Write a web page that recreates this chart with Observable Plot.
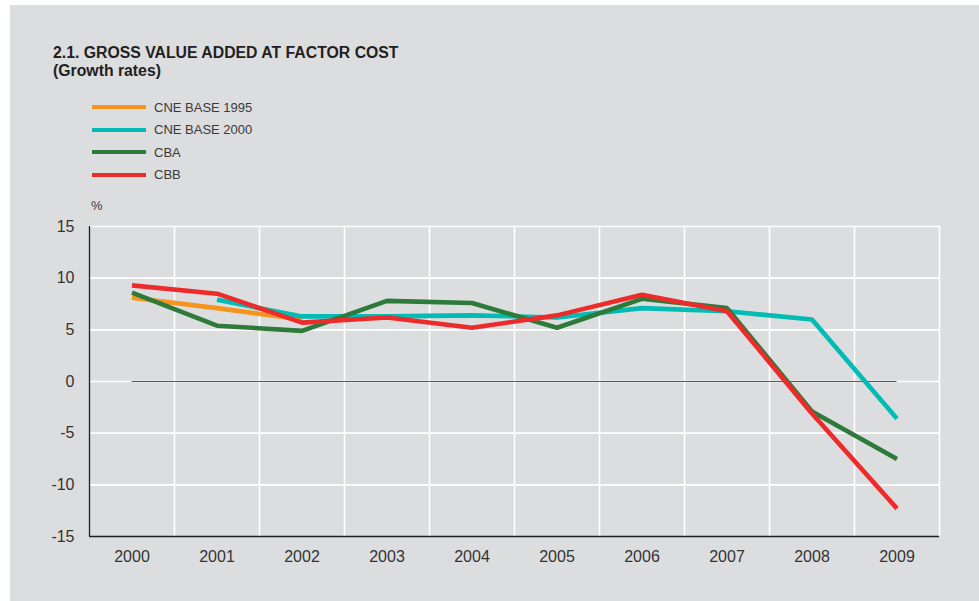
<!DOCTYPE html>
<html>
<head>
<meta charset="utf-8">
<script src="https://cdn.jsdelivr.net/npm/d3@7"></script>
<script src="https://cdn.jsdelivr.net/npm/@observablehq/plot@0.6"></script>
<style>
  html, body { margin: 0; padding: 0; background: #ffffff; }
  body { width: 979px; height: 601px; overflow: hidden; position: relative; font-family: "Liberation Sans", Arial, sans-serif; }
  #panel { position: absolute; left: 10px; top: 5px; width: 969px; height: 596px; background: #dcdddf; }
  #title { position: absolute; left: 43px; top: 39px; font-size: 15.8px; line-height: 18px; font-weight: bold; color: #231f20; }
  #legend { position: absolute; left: 82px; top: 90.7px; }
  .row { height: 22.67px; display: flex; align-items: center; font-size: 13px; color: #3a3a3a; }
  .sw { width: 54px; height: 4px; margin-right: 8px; }
  #unit { position: absolute; left: 81px; top: 194px; font-size: 13px; line-height: 13px; color: #3a3a3a; }
  #chart { position: absolute; left: 0px; top: 185px; }
</style>
</head>
<body>
<div id="panel">
  <div id="title">2.1. GROSS VALUE ADDED AT FACTOR COST<br>(Growth rates)</div>
  <div id="legend"></div>
  <div id="unit">%</div>
  <div id="chart"></div>
</div>
<script>
const years = [2000, 2001, 2002, 2003, 2004, 2005, 2006, 2007, 2008, 2009];
const cne1995 = [8.1, 7.1, 6.0, null, null, null, null, null, null, null];
const cne2000 = [null, 7.9, 6.3, 6.3, 6.4, 6.2, 7.1, 6.8, 6.0, -3.6];
const cba = [8.6, 5.4, 4.9, 7.8, 7.6, 5.2, 8.0, 7.1, -2.9, -7.5];
const cbb = [9.3, 8.5, 5.7, 6.2, 5.2, 6.4, 8.4, 6.8, -3.1, -12.3];
const seriesNames = ["CNE BASE 1995", "CNE BASE 2000", "CBA", "CBB"];
const seriesValues = [cne1995, cne2000, cba, cbb];
const colors = ["#f7941d", "#00bcb4", "#2d7a3b", "#ee2b2b"];
const yTicks = [-15, -10, -5, 0, 5, 10, 15];

// legend
const legend = document.getElementById("legend");
seriesNames.forEach((name, i) => {
  const row = document.createElement("div");
  row.className = "row";
  const sw = document.createElement("div");
  sw.className = "sw";
  sw.style.background = colors[i];
  const label = document.createElement("span");
  label.textContent = name;
  row.appendChild(sw);
  row.appendChild(label);
  legend.appendChild(row);
});

const data = [];
seriesValues.forEach((vals, s) => {
  vals.forEach((v, i) => {
    if (v != null) data.push({series: seriesNames[s], year: years[i], value: v});
  });
});

const x0 = years[0] - 0.5;
const x1 = years[years.length - 1] + 0.5;
const yMin = yTicks[0];
const yMax = yTicks[yTicks.length - 1];

const chart = Plot.plot({
  width: 969,
  height: 400,
  marginLeft: 79,
  marginRight: 40,
  marginTop: 36,
  marginBottom: 54,
  style: {background: "transparent", fontFamily: "Liberation Sans, Arial, sans-serif", fontSize: "16px", color: "#333"},
  x: {domain: [x0, x1], label: null},
  y: {domain: [yMin, yMax], label: null},
  marks: [
    Plot.ruleY(yTicks.filter(t => t > yMin), {stroke: "#ffffff", strokeWidth: 1.6}),
    Plot.ruleX(years.map(y => y + 0.5), {y1: yMin, y2: yMax, stroke: "#ffffff", strokeWidth: 1.6}),
    Plot.ruleY([0], {x1: years[0], x2: years[years.length - 1], stroke: "#5a5a5a", strokeWidth: 1.2}),
    Plot.ruleX([x0], {y1: yMin, y2: yMax, stroke: "#231f20", strokeWidth: 1.3}),
    Plot.ruleY([yMin], {x1: x0, x2: x1, stroke: "#231f20", strokeWidth: 1.3}),
    Plot.axisX(years, {tickFormat: d => String(d), tickSize: 0, tickPadding: 14, fontSize: 16, fill: "#333", label: null}),
    Plot.axisY(yTicks, {tickFormat: d => String(d), tickSize: 0, tickPadding: 15, fontSize: 16, fill: "#333", label: null}),
    ...seriesNames.map((name, s) => Plot.line(data.filter(d => d.series === name), {
      x: "year", y: "value", stroke: colors[s], strokeWidth: 4.6, strokeLinejoin: "miter", strokeLinecap: "butt"
    }))
  ]
});
document.getElementById("chart").appendChild(chart);
</script>
</body>
</html>
